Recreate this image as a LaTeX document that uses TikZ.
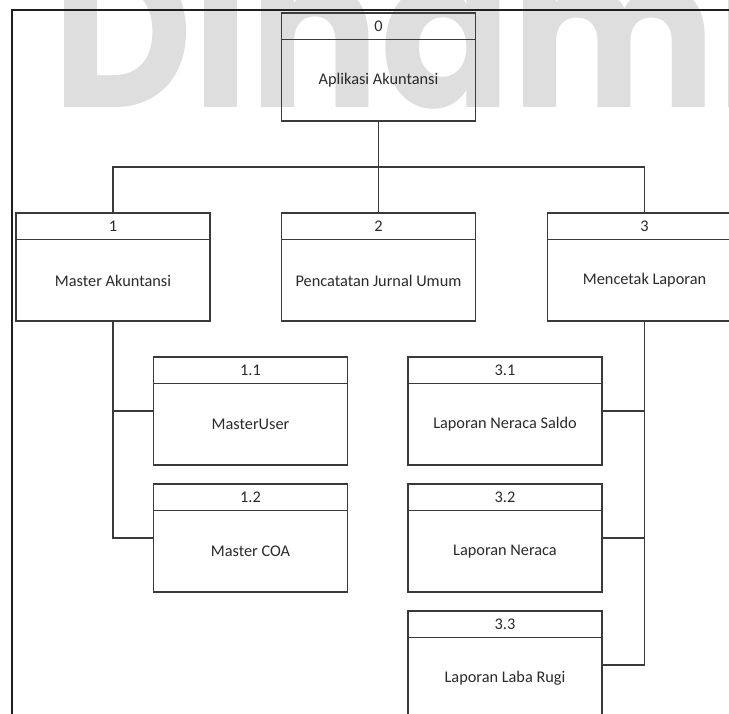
\documentclass[tikz,border=0pt]{standalone}
\usepackage{fontspec}
\setmainfont{Carlito}
\newfontfamily\wmfont{Poppins}
\definecolor{boxgray}{HTML}{3A3A3A}
\definecolor{textgray}{HTML}{2A2A2A}
\definecolor{wmgray}{HTML}{DEDEDE}
\newcommand{\procnode}[5]{%
  \node[procbox] (#1) at (#2,#3) {};
  \draw[boxline] ([yshift=-27pt]#1.north west) -- ([yshift=-27pt]#1.north east);
  \node[boxtext] (#1-num) at ([yshift=-13.5pt]#1.north) {#4};
  \node[boxtext] (#1-lab) at ([yshift=-13.5pt]#1.center) {#5};
}
\begin{document}
\begin{tikzpicture}[x=1pt,y=-1pt,
  procbox/.style={draw=boxgray, line width=1.3pt, minimum width=194pt, minimum height=108pt, inner sep=0pt},
  boxline/.style={draw=boxgray, line width=1.3pt},
  boxtext/.style={text=textgray, font=\fontsize{16.3}{19}\selectfont, inner sep=0pt},
  conn/.style={draw=boxgray, line width=1.3pt},
  framestyle/.style={draw=black!88, line width=1.6pt},
  watermark/.style={anchor=base west, inner sep=0pt, text=wmgray, font=\wmfont\bfseries\fontsize{215}{215}\selectfont}]
\useasboundingbox (0,0) rectangle (729,714);
\clip (0,0) rectangle (729,714);
\fill[white] (0,0) rectangle (729,714);
% watermark
\node[watermark] (wm) at (52,108) {\scalebox{0.9}[1]{Dinamika}};
% frame
\draw[framestyle] (12,720) -- (12,10) -- (740,10);
% boxes
\procnode{b0}{378.5}{67}{0}{Aplikasi Akuntansi}
\procnode{b1}{113}{267}{1}{Master Akuntansi}
\procnode{b2}{378.5}{267}{2}{Pencatatan Jurnal Umum}
\procnode{b3}{644.5}{267}{3}{Mencetak Laporan}
\procnode{b11}{250.5}{411}{1.1}{MasterUser}
\procnode{b12}{250.5}{538}{1.2}{Master COA}
\procnode{b31}{505}{411}{3.1}{Laporan Neraca Saldo}
\procnode{b32}{505}{538}{3.2}{Laporan Neraca}
\procnode{b33}{505}{665}{3.3}{Laporan Laba Rugi}
% connectors
\coordinate (bus) at (378.5,167);
\draw[conn] (b0.south) -- (b2.north);
\draw[conn] (b1.north) -- (b1.north |- bus) -- (b3.north |- bus) -- (b3.north);
\draw[conn] (b1.south) |- (b11.west);
\draw[conn] (b1.south) |- (b12.west);
\draw[conn] (b3.south) |- (b31.east);
\draw[conn] (b3.south) |- (b32.east);
\draw[conn] (b3.south) |- (b33.east);
\end{tikzpicture}
\end{document}
